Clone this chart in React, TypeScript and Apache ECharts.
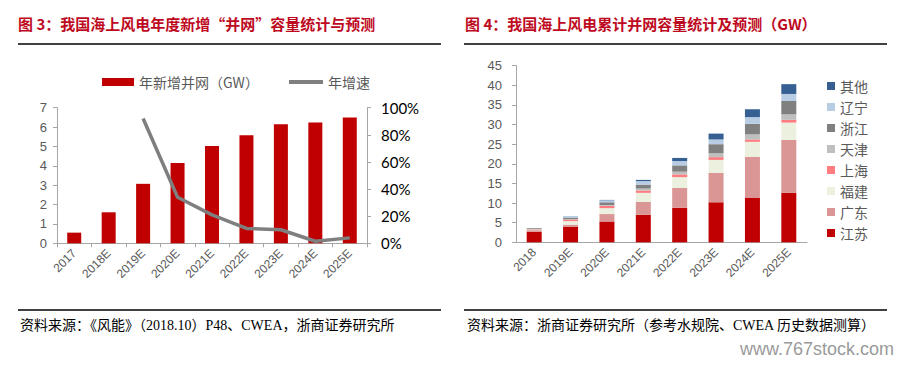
import React, { useEffect, useRef } from "react";
import * as echarts from "echarts";

// ---------- Data ----------
const annualYears = ["2017", "2018E", "2019E", "2020E", "2021E", "2022E", "2023E", "2024E", "2025E"];
const annualNewGW = [0.55, 1.6, 3.07, 4.14, 5.02, 5.58, 6.15, 6.24, 6.49];
const annualGrowthPct = [null, null, 92, 34, 21, 11, 10, 1.5, 4];

const cumYears = ["2018", "2019E", "2020E", "2021E", "2022E", "2023E", "2024E", "2025E"];
const jiangsu = [2.7, 4.0, 5.3, 7.0, 8.8, 10.2, 11.4, 12.6];
const guangdong = [0.4, 0.5, 1.9, 3.3, 5.1, 7.5, 10.4, 13.5];
const fujian = [0.1, 0.9, 1.5, 2.3, 2.7, 3.3, 3.8, 4.4];
const shanghai = [0.1, 0.4, 0.6, 0.6, 0.7, 0.7, 0.6, 0.7];
const tianjin = [0.1, 0.1, 0.2, 0.5, 0.7, 1.0, 1.3, 1.4];
const zhejiang = [0.2, 0.4, 0.7, 1.0, 1.6, 2.3, 2.7, 3.4];
const liaoning = [0.0, 0.4, 0.5, 0.9, 1.1, 1.2, 1.7, 1.8];
const others = [0.0, 0.0, 0.1, 0.3, 0.8, 1.5, 2.0, 2.5];

const provinceNames = ["江苏", "广东", "福建", "上海", "天津", "浙江", "辽宁", "其他"];
const provinceData = [jiangsu, guangdong, fujian, shanghai, tianjin, zhejiang, liaoning, others];
const provinceColors = ["#C00000", "#DA9694", "#EBF1DE", "#FF7C80", "#BFBFBF", "#808080", "#B8CCE4", "#366092"];

const leftYTicks = { min: 0, max: 7, interval: 1 };
const rightPctTicks = { min: 0, max: 100, interval: 20 };
const cumTicks = { min: 0, max: 45, interval: 5 };

const title1 = "图 3：我国海上风电年度新增“并网”容量统计与预测";
const title2 = "图 4：我国海上风电累计并网容量统计及预测（GW）";
const source1 = "资料来源：《风能》（2018.10）P48、CWEA，浙商证券研究所";
const source2 = "资料来源：浙商证券研究所（参考水规院、CWEA 历史数据测算）";
const watermark = "www.767stock.com";

const SANS = "Liberation Sans, Arial, Noto Sans CJK SC, sans-serif";
const CJK = "Noto Sans CJK SC, sans-serif";
const SERIF = "Liberation Serif, Noto Sans CJK SC, serif";
const TITLE_RED = "#BE0A1E";
const AXIS_GREY = "#A6A6A6";
const LABEL_GREY = "#595959";

export default function App() {
  const ref = useRef<HTMLDivElement>(null);

  useEffect(() => {
    document.body.style.margin = "0";
    if (!ref.current) return;
    const chart = echarts.init(ref.current, undefined, { renderer: "svg" });

    const option: any = {
      animation: false,
      backgroundColor: "#FFFFFF",
      graphic: [
        { type: "text", left: 18, top: 16, style: { text: title1, fill: TITLE_RED, font: `bold 15px ${CJK}` } },
        { type: "text", left: 465, top: 16, style: { text: title2, fill: TITLE_RED, font: `bold 15px ${CJK}` } },
        { type: "line", shape: { x1: 18, y1: 44, x2: 441, y2: 44 }, style: { stroke: "#000", lineWidth: 1.3 } },
        { type: "line", shape: { x1: 464, y1: 44, x2: 887, y2: 44 }, style: { stroke: "#000", lineWidth: 1.3 } },
        { type: "line", shape: { x1: 18, y1: 310, x2: 441, y2: 310 }, style: { stroke: "#000", lineWidth: 1.3 } },
        { type: "line", shape: { x1: 464, y1: 310, x2: 887, y2: 310 }, style: { stroke: "#000", lineWidth: 1.3 } },
        { type: "text", left: 20, top: 318, style: { text: source1, fill: "#000", font: `14px ${SERIF}` } },
        { type: "text", left: 467, top: 318, style: { text: source2, fill: "#000", font: `14px ${SERIF}` } },
        { type: "text", left: 740, top: 340, style: { text: watermark, fill: "#9A9A9A", font: `18px ${SANS}` } },
      ],
      legend: [
        {
          data: [{ name: "年新增并网（GW）", icon: "rect" }],
          left: 97, top: 70, itemWidth: 32, itemHeight: 8,
          textStyle: { color: LABEL_GREY, fontSize: 14, fontFamily: CJK },
        },
        {
          data: [{ name: "年增速", icon: "rect" }],
          left: 284, top: 70, itemWidth: 34, itemHeight: 4,
          textStyle: { color: LABEL_GREY, fontSize: 14, fontFamily: CJK },
        },
        {
          data: provinceNames.slice().reverse().map((n) => ({ name: n, icon: "rect" })),
          orient: "vertical", left: 822, top: 74, itemWidth: 8, itemHeight: 8, itemGap: 7,
          textStyle: { color: LABEL_GREY, fontSize: 14, lineHeight: 14, fontFamily: CJK },
        },
      ],
      grid: [
        { left: 57, right: 911 - 367, top: 107.7, bottom: 365 - 243.3 },
        { left: 516, right: 911 - 807, top: 65.7, bottom: 365 - 242.3 },
      ],
      xAxis: [
        {
          type: "category", gridIndex: 0, data: annualYears,
          axisLine: { lineStyle: { color: AXIS_GREY } },
          axisTick: { show: true, length: 4, lineStyle: { color: AXIS_GREY } },
          axisLabel: { rotate: 45, color: LABEL_GREY, fontSize: 12, fontFamily: SANS, margin: 8, interval: 0 },
        },
        {
          type: "category", gridIndex: 1, data: cumYears,
          axisLine: { lineStyle: { color: AXIS_GREY } },
          axisTick: { show: false },
          axisLabel: { rotate: 45, color: LABEL_GREY, fontSize: 12, fontFamily: SANS, margin: 8, interval: 0 },
        },
      ],
      yAxis: [
        {
          type: "value", gridIndex: 0, ...leftYTicks,
          axisLine: { show: true, lineStyle: { color: AXIS_GREY } },
          axisTick: { show: true, length: 4, lineStyle: { color: AXIS_GREY } },
          splitLine: { show: false },
          axisLabel: { color: LABEL_GREY, fontSize: 13, fontFamily: SANS, margin: 10 },
        },
        {
          type: "value", gridIndex: 0, position: "right", ...rightPctTicks,
          axisLine: { show: true, lineStyle: { color: AXIS_GREY } },
          axisTick: { show: true, length: 4, lineStyle: { color: AXIS_GREY } },
          splitLine: { show: false },
          axisLabel: { color: "#000", fontSize: 15, fontFamily: "Lato, " + SANS, margin: 14, formatter: "{value}%" },
        },
        {
          type: "value", gridIndex: 1, ...cumTicks,
          axisLine: { show: true, lineStyle: { color: AXIS_GREY } },
          axisTick: { show: true, length: 4, lineStyle: { color: AXIS_GREY } },
          splitLine: { show: false },
          axisLabel: { color: LABEL_GREY, fontSize: 13, fontFamily: SANS, margin: 14 },
        },
      ],
      series: [
        {
          name: "年新增并网（GW）", type: "bar", xAxisIndex: 0, yAxisIndex: 0,
          data: annualNewGW, barWidth: 14, itemStyle: { color: "#C00000" },
        },
        {
          name: "年增速", type: "line", xAxisIndex: 0, yAxisIndex: 1,
          data: annualGrowthPct, showSymbol: false, symbol: "none",
          lineStyle: { color: "#7F7F7F", width: 3.5 }, itemStyle: { color: "#7F7F7F" },
        },
        ...provinceNames.map((name, i) => ({
          name, type: "bar", xAxisIndex: 1, yAxisIndex: 2, stack: "cum",
          data: provinceData[i], barWidth: 15,
          itemStyle: { color: provinceColors[i] },
        })),
      ],
    };

    chart.setOption(option);
    return () => chart.dispose();
  }, []);

  return <div ref={ref} style={{ position: "fixed", left: 0, top: 0, width: 911, height: 365 }} />;
}
